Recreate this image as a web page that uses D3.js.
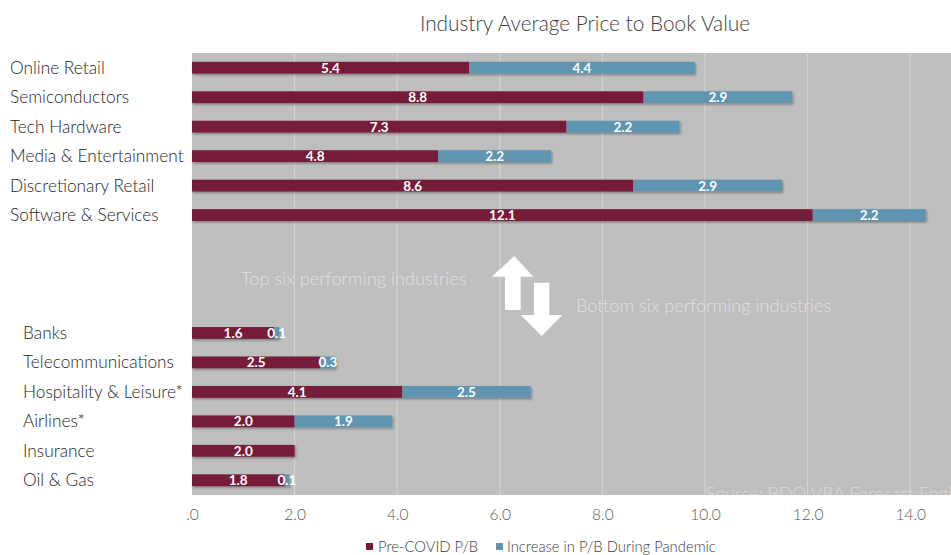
<!DOCTYPE html>
<html>
<head>
<meta charset="utf-8">
<script src="https://cdn.jsdelivr.net/npm/d3@7"></script>
<style>
  html, body { margin: 0; padding: 0; background: #fff; }
  svg { display: block; }
  text { font-family: Lato, "Open Sans", sans-serif; }
</style>
</head>
<body>
<svg id="chart" width="951" height="555"></svg>
<script>
// ---- data ----
const topIndustries = ["Online Retail", "Semiconductors", "Tech Hardware", "Media & Entertainment", "Discretionary Retail", "Software & Services"];
const bottomIndustries = ["Banks", "Telecommunications", "Hospitality & Leisure*", "Airlines*", "Insurance", "Oil & Gas"];
const gapSlots = ["__gap1", "__gap2", "__gap3"];
const preCovid = [5.4, 8.8, 7.3, 4.8, 8.6, 12.1, 1.6, 2.5, 4.1, 2.0, 2.0, 1.8];
const increase = [4.4, 2.9, 2.2, 2.2, 2.9, 2.2, 0.1, 0.3, 2.5, 1.9, 0.0, 0.1];
const tickValues = [0, 2, 4, 6, 8, 10, 12, 14];
const tickLabels = [".0", "2.0", "4.0", "6.0", "8.0", "10.0", "12.0", "14.0"];
const seriesNames = ["Pre-COVID P/B", "Increase in P/B During Pandemic"];
const titleText = "Industry Average Price to Book Value";
const topNote = "Top six performing industries";
const bottomNote = "Bottom six performing industries";
const sourceText = "Source: BDO VBA Forecast Engine";

const industries = topIndustries.concat(bottomIndustries);
const rows = industries.map((name, i) => ({ name, pre: preCovid[i], inc: increase[i], top: i < 6 }));

// ---- layout ----
const colors = { pre: "#761A3A", inc: "#5F95B1", plot: "#BFBFBF", grid: "#D6D6D6" };
const plot = { left: 192, right: 960, top: 53, bottom: 495 };
const svg = d3.select("#chart");

const x = d3.scaleLinear().domain([0, 15]).range([plot.left, plot.left + 15 * 51.3]);
const y = d3.scaleBand()
  .domain(topIndustries.concat(gapSlots, bottomIndustries))
  .range([plot.top, plot.bottom])
  .paddingInner(0.6).paddingOuter(0.3);

const defs = svg.append("defs");
const shadow = defs.append("filter").attr("id", "shadow").attr("x", "-5%").attr("y", "-50%").attr("width", "110%").attr("height", "200%");
shadow.append("feDropShadow").attr("dx", 1.2).attr("dy", 1.5).attr("stdDeviation", 0.9)
  .attr("flood-color", "#000").attr("flood-opacity", 0.35);
defs.append("clipPath").attr("id", "plotclip").append("rect")
  .attr("x", plot.left).attr("y", plot.top).attr("width", plot.right - plot.left).attr("height", plot.bottom - plot.top);

// plot background
svg.append("rect").attr("x", plot.left).attr("y", plot.top)
  .attr("width", plot.right - plot.left).attr("height", plot.bottom - plot.top)
  .attr("fill", colors.plot);

// gridlines
svg.append("g").selectAll("line").data(tickValues.filter(d => d > 0)).join("line")
  .attr("x1", d => x(d)).attr("x2", d => x(d))
  .attr("y1", plot.top).attr("y2", plot.bottom)
  .attr("stroke", colors.grid).attr("stroke-width", 1);

// source text (clipped by plot, as in the reference)
svg.append("text").attr("clip-path", "url(#plotclip)")
  .attr("x", 706).attr("y", 500)
  .attr("fill", "#D9D9D9").attr("font-size", 17.8).attr("font-weight", 300)
  .text(sourceText);

// annotations
svg.append("text").attr("x", 241).attr("y", 285)
  .attr("fill", "#E2E2E2").attr("font-size", 18.2).attr("font-weight", 300).text(topNote);
svg.append("text").attr("x", 576).attr("y", 312)
  .attr("fill", "#E2E2E2").attr("font-size", 18.2).attr("font-weight", 300).text(bottomNote);

// arrows
svg.append("path").attr("fill", "#fff")
  .attr("d", "M514.3,256 L533.3,276.7 L520.7,276.7 L520.7,310 L505,310 L505,276.7 L491.7,276.7 Z");
svg.append("path").attr("fill", "#fff")
  .attr("d", "M534,282.7 L549.3,282.7 L549.3,315 L562.3,315 L541.7,336 L520.7,315 L534,315 Z");

// bars
const bh = y.bandwidth();
const barG = svg.append("g").attr("filter", "url(#shadow)");
barG.selectAll("rect.pre").data(rows).join("rect").attr("class", "pre")
  .attr("x", x(0)).attr("y", d => y(d.name))
  .attr("width", d => x(d.pre) - x(0)).attr("height", bh).attr("fill", colors.pre);
barG.selectAll("rect.inc").data(rows.filter(d => d.inc > 0)).join("rect").attr("class", "inc")
  .attr("x", d => x(d.pre)).attr("y", d => y(d.name))
  .attr("width", d => x(d.pre + d.inc) - x(d.pre)).attr("height", bh).attr("fill", colors.inc);

// value labels
const lab = svg.append("g").attr("font-family", "'Open Sans', sans-serif").attr("font-weight", 700)
  .attr("font-size", 13.5).attr("fill", "#fff").attr("text-anchor", "middle");
lab.selectAll("text.pre").data(rows).join("text")
  .attr("x", d => (x(0) + x(d.pre)) / 2).attr("y", d => y(d.name) + bh / 2 + 5)
  .text(d => d.pre.toFixed(1));
lab.selectAll("text.inc").data(rows.filter(d => d.inc > 0)).join("text")
  .attr("x", d => (x(d.pre) + x(d.pre + d.inc)) / 2).attr("y", d => y(d.name) + bh / 2 + 5)
  .text(d => d.inc.toFixed(1));

// category labels
svg.append("g").selectAll("text").data(rows).join("text")
  .attr("x", d => d.top ? 10 : 23).attr("y", d => y(d.name) + bh / 2 + 6)
  .attr("fill", "#262626").attr("font-size", 17.3).attr("font-weight", 300)
  .text(d => d.name);

// x axis
const xAxis = d3.axisBottom(x).tickValues(tickValues).tickSize(0).tickPadding(0)
  .tickFormat((d, i) => tickLabels[i]);
const ax = svg.append("g").attr("transform", `translate(0,${plot.bottom + 14})`).call(xAxis);
ax.select(".domain").remove();
ax.selectAll("text").attr("font-family", "Lato, sans-serif").attr("font-size", 15.5).attr("font-weight", 300)
  .attr("fill", "#595959").attr("dy", "0.71em");

// title
svg.append("text").attr("x", 585).attr("y", 31).attr("text-anchor", "middle")
  .attr("fill", "#404040").attr("font-size", 20.8).attr("font-weight", 300).text(titleText);

// legend
const legend = svg.append("g").attr("font-size", 14.8).attr("font-weight", 300).attr("fill", "#404040");
const legendItems = [
  { name: seriesNames[0], color: colors.pre, sx: 366, tx: 378 },
  { name: seriesNames[1], color: colors.inc, sx: 496, tx: 507 }
];
legendItems.forEach(it => {
  legend.append("rect").attr("x", it.sx).attr("y", 543).attr("width", 7).attr("height", 7).attr("fill", it.color);
  legend.append("text").attr("x", it.tx).attr("y", 552).text(it.name);
});
</script>
</body>
</html>
